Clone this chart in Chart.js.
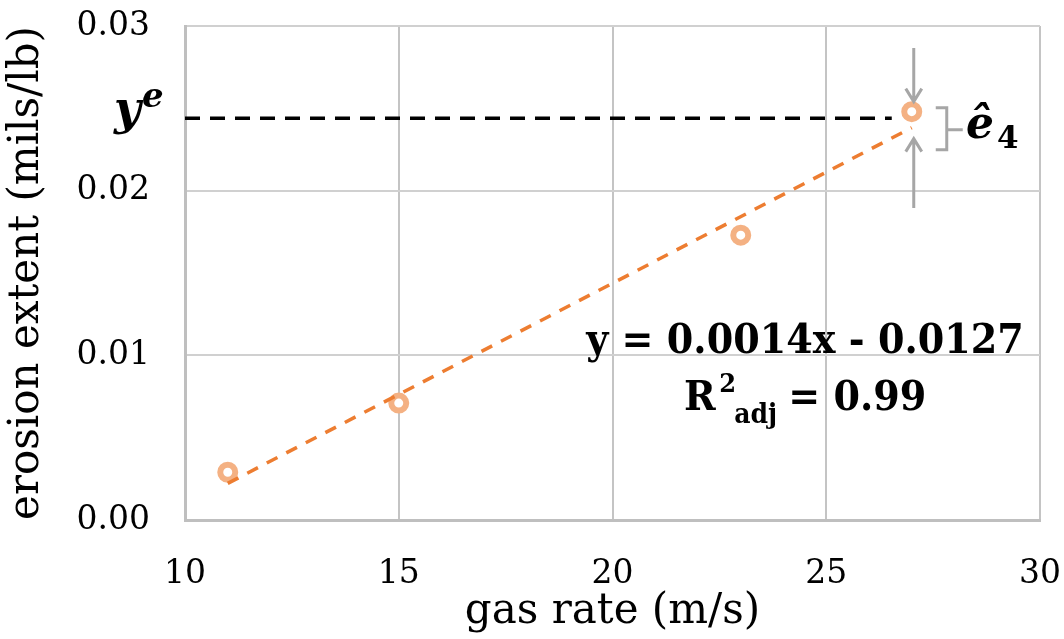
<!DOCTYPE html>
<html>
<head>
<meta charset="utf-8">
<script src="https://cdn.jsdelivr.net/npm/chart.js@4.4.1/dist/chart.umd.min.js"></script>
<style>
  html, body { margin: 0; padding: 0; background: #fff; }
  canvas { display: block; }
</style>
</head>
<body>
<canvas id="erosion-chart" width="1064" height="639"></canvas>
<script>
// measured erosion vs gas velocity
var gasRate = [11, 15, 23, 27];
var erosion = [0.0029, 0.0071, 0.0173, 0.0248];
var xTicks = [10, 15, 20, 25, 30];
var yTicks = [0.00, 0.01, 0.02, 0.03];
var yeLevel = 0.0244;

var serif = "'DejaVu Serif', 'Liberation Serif', serif";

// least squares fit for the trendline
function fitLine(xs, ys) {
  var n = xs.length, mx = 0, my = 0, sxx = 0, sxy = 0;
  for (var i = 0; i < n; i++) { mx += xs[i] / n; my += ys[i] / n; }
  for (var j = 0; j < n; j++) {
    sxx += (xs[j] - mx) * (xs[j] - mx);
    sxy += (xs[j] - mx) * (ys[j] - my);
  }
  var m = sxy / sxx;
  return { m: m, b: my - m * mx };
}
var fit = fitLine(gasRate, erosion);
var xFirst = gasRate[0], xLast = gasRate[gasRate.length - 1];

function arrow(ctx, x, y0, y1) {
  var dir = y1 > y0 ? 1 : -1;
  ctx.beginPath();
  ctx.moveTo(x, y0);
  ctx.lineTo(x, y1);
  ctx.moveTo(x - 8, y1 - dir * 13);
  ctx.lineTo(x, y1);
  ctx.lineTo(x + 8, y1 - dir * 13);
  ctx.stroke();
}

function noPad(s) {
  s.paddingTop = 0; s.paddingBottom = 0; s.paddingLeft = 0; s.paddingRight = 0;
}

var notes = {
  id: "notes",
  afterDatasetsDraw: function(chart) {
    var ctx = chart.ctx, xs = chart.scales.x, ys = chart.scales.y, area = chart.chartArea;
    var px = xs.getPixelForValue(xLast);
    var py = ys.getPixelForValue(erosion[erosion.length - 1]);
    var ye = ys.getPixelForValue(yeLevel);
    ctx.save();

    // observed level
    ctx.strokeStyle = "#000";
    ctx.lineWidth = 3.5;
    ctx.setLineDash([15, 10]);
    ctx.beginPath();
    ctx.moveTo(area.left, ye);
    ctx.lineTo(px - 20, ye);
    ctx.stroke();
    ctx.setLineDash([]);

    ctx.fillStyle = "#000";
    ctx.textBaseline = "alphabetic";
    ctx.textAlign = "left";
    ctx.font = "italic bold 46px " + serif;
    ctx.fillText("y", 114, 124);
    ctx.font = "italic bold 34px " + serif;
    ctx.fillText("e", 142, 107);

    // residual arrows and bracket
    ctx.strokeStyle = "#A6A6A6";
    ctx.lineWidth = 3;
    arrow(ctx, px + 2, 48, py - 10);
    arrow(ctx, px + 2, 208, py + 27);
    ctx.beginPath();
    ctx.moveTo(px + 24, py - 4);
    ctx.lineTo(px + 35, py - 4);
    ctx.lineTo(px + 35, py + 38);
    ctx.lineTo(px + 24, py + 38);
    ctx.moveTo(px + 35, py + 18);
    ctx.lineTo(px + 51, py + 18);
    ctx.stroke();

    ctx.font = "italic bold 44px " + serif;
    ctx.fillText("\u00EA", 966, 138);
    ctx.font = "bold 31px " + serif;
    ctx.fillText("4", 997, 148);

    // trendline equation
    ctx.save();
    ctx.translate(805, 353);
    ctx.scale(0.93, 1);
    ctx.textAlign = "center";
    ctx.font = "bold 41px " + serif;
    ctx.fillText("y = 0.0014x - 0.0127", 0, 0);
    ctx.restore();

    ctx.save();
    ctx.translate(684, 410);
    ctx.scale(0.93, 1);
    ctx.font = "bold 41px " + serif;
    ctx.fillText("R", 0, 0);
    ctx.font = "bold 26px " + serif;
    ctx.fillText("2", 38, -18);
    ctx.font = "bold 27px " + serif;
    ctx.fillText("adj", 54, 13);
    ctx.font = "bold 41px " + serif;
    ctx.fillText("= 0.99", 112, 0);
    ctx.restore();
    ctx.restore();
  }
};

var canvas = document.getElementById("erosion-chart").getContext("2d");
var chart = new Chart(canvas, {
  type: "scatter",
  data: {
    datasets: [{
      label: "trend",
      type: "line",
      data: [
        { x: xFirst, y: fit.m * xFirst + fit.b },
        { x: xLast, y: fit.m * xLast + fit.b }
      ],
      borderColor: "#ED7D31",
      borderWidth: 3.5,
      borderDash: [12, 10],
      pointRadius: 0,
      fill: false,
      order: 0
    }, {
      label: "erosion",
      data: gasRate.map(function(x, i) { return { x: x, y: erosion[i] }; }),
      pointRadius: 7.5,
      pointBorderWidth: 6,
      pointBorderColor: "#F4B183",
      pointBackgroundColor: "#FFFFFF",
      order: 1
    }]
  },
  options: {
    responsive: false,
    animation: false,
    layout: { padding: { top: 26, right: 24, left: 0, bottom: 0 } },
    plugins: { legend: { display: false }, tooltip: { enabled: false } },
    scales: {
      x: {
        type: "linear",
        min: xTicks[0],
        max: xTicks[xTicks.length - 1],
        afterBuildTicks: function(s) { s.ticks = xTicks.map(function(v) { return { value: v }; }); },
        ticks: { font: { family: serif, size: 33 }, color: "#000", padding: 35 },
        grid: { color: "#C4C4C4", lineWidth: 2, drawTicks: false },
        border: { color: "#BFBFBF", width: 3 },
        title: { display: true, text: "gas rate (m/s)", font: { family: serif, size: 42 }, color: "#000", padding: { top: 0, bottom: 2 } },
        afterFit: function(s) { s.height = 119; noPad(s); }
      },
      y: {
        min: yTicks[0],
        max: yTicks[yTicks.length - 1],
        afterBuildTicks: function(s) { s.ticks = yTicks.map(function(v) { return { value: v }; }); },
        ticks: {
          font: { family: serif, size: 33 }, color: "#000", padding: 35,
          callback: function(v) { return v.toFixed(2); }
        },
        grid: { color: "#D0D0D0", lineWidth: 2, drawTicks: false },
        border: { color: "#BFBFBF", width: 3 },
        title: { display: true, text: "erosion extent (mils/lb)", font: { family: serif, size: 42 }, color: "#000", padding: { top: 2, bottom: 0 } },
        afterFit: function(s) { s.width = 185; noPad(s); }
      }
    }
  },
  plugins: [notes]
});
</script>
</body>
</html>
